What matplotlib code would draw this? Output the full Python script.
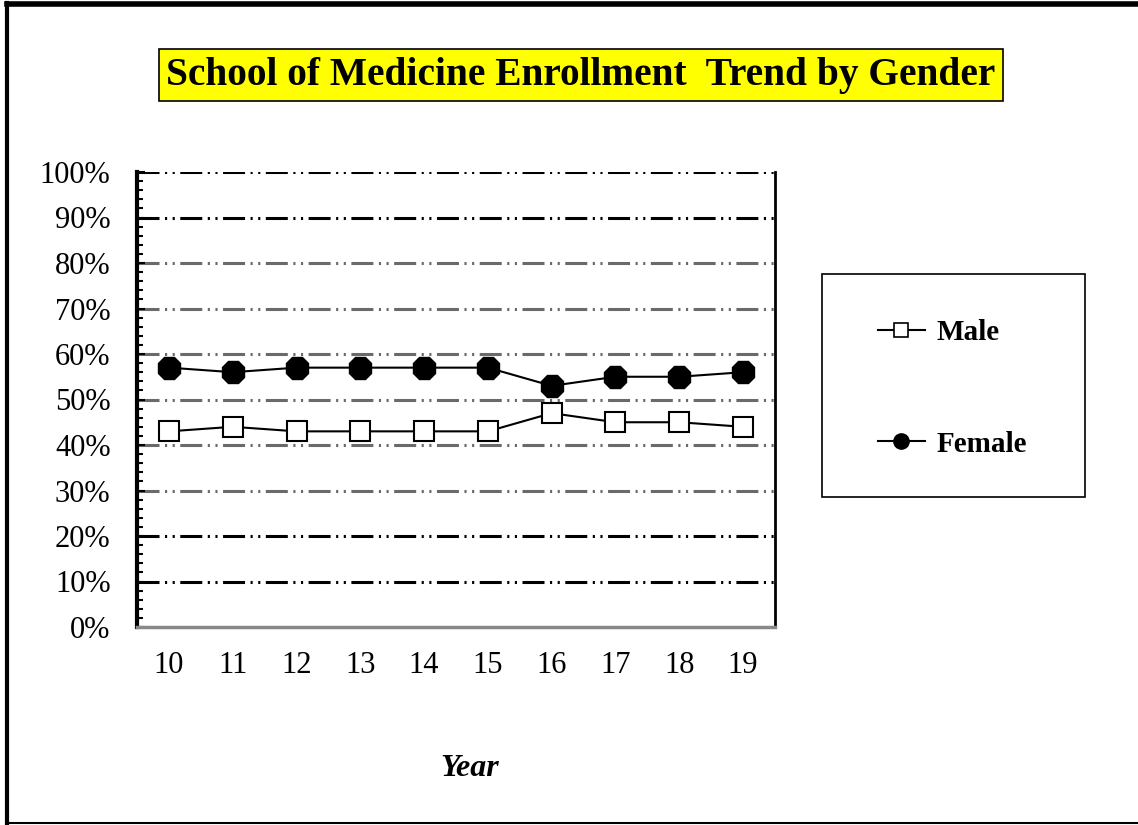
import numpy as np
import matplotlib
matplotlib.use("Agg")
import matplotlib.pyplot as plt
from matplotlib.lines import Line2D
from matplotlib.patches import Rectangle
from matplotlib.ticker import MultipleLocator, PercentFormatter

years = ["10", "11", "12", "13", "14", "15", "16", "17", "18", "19"]
male = [43, 44, 43, 43, 43, 43, 47, 45, 45, 44]
female = [57, 56, 57, 57, 57, 57, 53, 55, 55, 56]

plt.rcParams['font.family'] = ['Liberation Serif', 'DejaVu Serif']

fig = plt.figure(figsize=(11.38, 8.25), dpi=100)
W, H = 1138, 825
ax = fig.add_axes([137 / W, 1 - 627 / H, (775 - 137) / W, (627 - 172) / H])

x = np.arange(len(years))

# gridlines: dash-dot-dot, some darker than others
dash = (0, (7.2, 1.8, 0.7, 1.8, 0.7, 1.8))
for v in range(10, 101, 10):
    if v in (10, 20, 90, 100):
        ax.axhline(v, color="black", lw=2.2, ls=dash, zorder=1)
    else:
        ax.axhline(v, color="#6a6a6a", lw=2.2, ls=dash, zorder=1)

ax.plot(x, male, color="black", lw=1.5, marker="s", ms=15, mfc="white",
        mec="black", mew=1.5, label="Male", zorder=3)
ax.plot(x, female, color="black", lw=1.5, marker="8", ms=17, mfc="black",
        mec="black", label="Female", zorder=3)

ax.set_xlim(-0.5, 9.5)
ax.set_ylim(0, 100)
ax.set_xticks(x)
ax.set_xticklabels(years)
ax.yaxis.set_major_locator(MultipleLocator(10))
ax.yaxis.set_minor_locator(MultipleLocator(2))
ax.yaxis.set_major_formatter(PercentFormatter(decimals=0))
ax.tick_params(axis="x", length=0, labelsize=22, pad=17)
ax.tick_params(axis="y", which="major", direction="in", length=6, width=1.5,
               labelsize=22, pad=19)
ax.tick_params(axis="y", which="minor", direction="in", length=4, width=1.5)

ax.spines["left"].set_linewidth(3)
ax.spines["bottom"].set_color("#888888")
ax.spines["bottom"].set_linewidth(2.5)
ax.spines["right"].set_linewidth(2)
ax.spines["top"].set_visible(False)

ax.set_xlabel("Year", fontsize=23, fontweight="bold", style="italic")
ax.xaxis.set_label_coords((470 - 137) / (775 - 137), 1 - (769 - 172) / (627 - 172))
ax.xaxis.label.set_va("center")

# title box
fig.text(581 / W, 1 - 75 / H, "School of Medicine Enrollment  Trend by Gender",
         ha="center", va="center", fontsize=28.4, fontweight="bold",
         bbox=dict(facecolor="#ffff00", edgecolor="black", lw=1.2,
                   boxstyle="square,pad=0.18"))

# legend box and entries
fig.add_artist(Rectangle((822 / W, 1 - 497 / H), (1085 - 822) / W, (497 - 274) / H,
                         transform=fig.transFigure, facecolor="white",
                         edgecolor="black", lw=1.2))
leg = fig.legend(handles=[
    Line2D([], [], color="black", lw=1.5, marker="s", ms=10, mfc="white",
           mec="black", mew=1.2),
    Line2D([], [], color="black", lw=1.5, marker="o", ms=11, mfc="black")],
    labels=["Male", "Female"],
    loc="upper left", bbox_to_anchor=(878 / W, 1 - 319 / H),
    frameon=False, borderpad=0, borderaxespad=0,
    handlelength=1.6, labelspacing=2.9, handletextpad=0.4,
    prop=dict(size=21, weight="bold"))

# outer frame
fig.add_artist(Line2D([7 / W, 7 / W], [0, 1 - 3 / H], color="black", lw=3,
                      transform=fig.transFigure))
fig.add_artist(Line2D([7 / W, 1], [1 - 4 / H, 1 - 4 / H], color="black", lw=4,
                      transform=fig.transFigure))
fig.add_artist(Line2D([7 / W, 1], [1 - 823 / H, 1 - 823 / H], color="black",
                      lw=1.5, transform=fig.transFigure))

fig.savefig("out.png", dpi=100)
